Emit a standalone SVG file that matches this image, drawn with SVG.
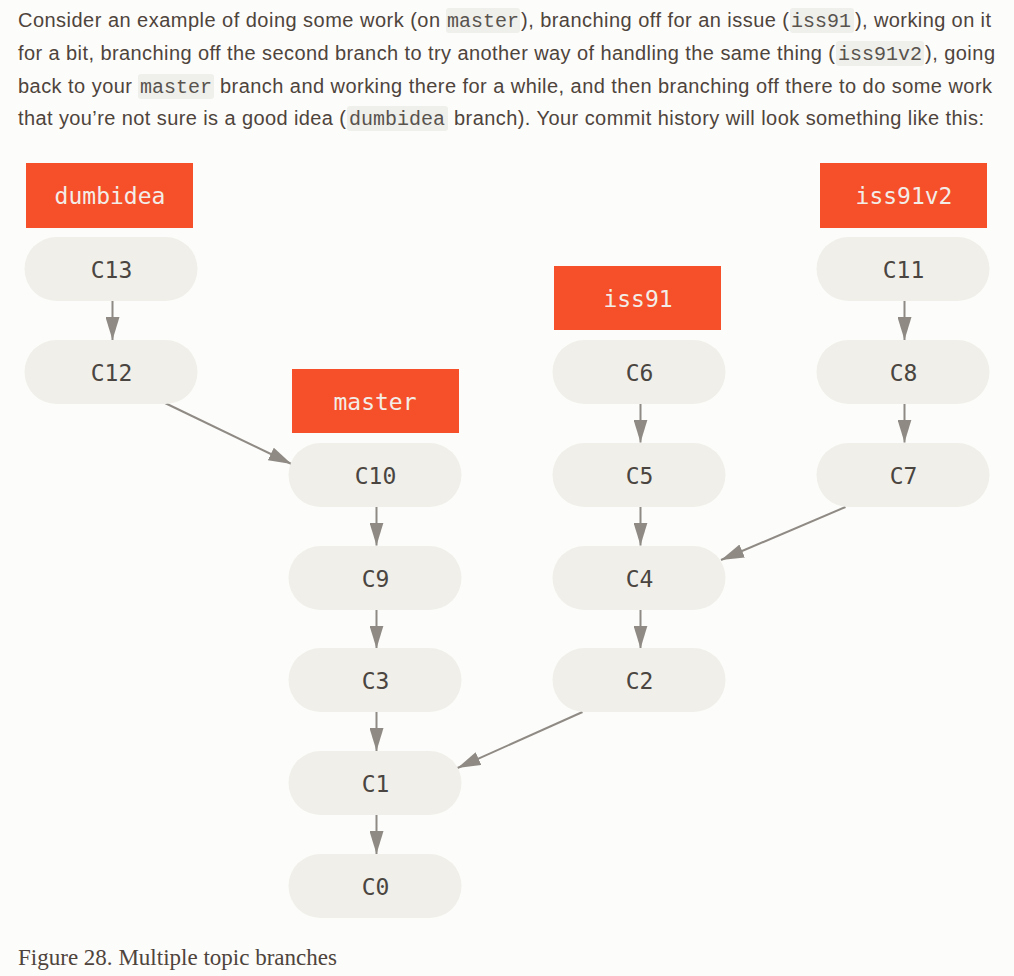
<svg xmlns="http://www.w3.org/2000/svg" width="1014" height="976" viewBox="0 0 1014 976">
<defs>
<style>
.body{font-family:"Liberation Sans",Arial,sans-serif;font-size:20px;fill:#4e443c}
.code{font-family:"Liberation Mono","Courier New",monospace;font-size:20px;fill:#58534e}
.codebg{fill:#efefeb}
.cap{font-family:"Liberation Serif","Times New Roman",serif;font-size:22.5px;fill:#4e443c}
.node rect{fill:#f0efe9}
.node text{font-family:"DejaVu Sans Mono",monospace;font-size:23px;fill:#4a4540;text-anchor:middle}
.label rect{fill:#f6502a}
.label text{font-family:"DejaVu Sans Mono",monospace;font-size:23px;fill:#f3ede8;text-anchor:middle}
.conn line{stroke:#8f8a84;stroke-width:2;marker-end:url(#arr)}
</style>
<marker id="arr" markerUnits="userSpaceOnUse" viewBox="0 0 23 14" refX="23" refY="7" markerWidth="23" markerHeight="14" orient="auto">
<path d="M0,0 L23,7 L0,14 z" fill="#8f8a84"/>
</marker>
</defs>
<rect width="1014" height="976" fill="#fcfcfa"/>

<g id="paragraph">
<rect class="codebg" x="446" y="8" width="74" height="25" rx="3"/>
<rect class="codebg" x="790" y="8" width="64" height="25" rx="3"/>
<rect class="codebg" x="836" y="41" width="88" height="25" rx="3"/>
<rect class="codebg" x="138" y="74" width="76" height="25" rx="3"/>
<rect class="codebg" x="347" y="106" width="101" height="25" rx="3"/>

<text class="body" x="18" y="27" textLength="422" lengthAdjust="spacing">Consider an example of doing some work (on</text>
<text class="code" x="447" y="27">master</text>
<text class="body" x="521" y="27" textLength="268" lengthAdjust="spacing">), branching off for an issue (</text>
<text class="code" x="791" y="27">iss91</text>
<text class="body" x="855" y="27" textLength="136" lengthAdjust="spacing">), working on it</text>

<text class="body" x="18" y="60" textLength="817" lengthAdjust="spacing">for a bit, branching off the second branch to try another way of handling the same thing (</text>
<text class="code" x="838" y="60">iss91v2</text>
<text class="body" x="925" y="60" textLength="70" lengthAdjust="spacing">), going</text>

<text class="body" x="18" y="93" textLength="114" lengthAdjust="spacing">back to your</text>
<text class="code" x="140" y="93">master</text>
<text class="body" x="220" y="93" textLength="772" lengthAdjust="spacing">branch and working there for a while, and then branching off there to do some work</text>

<text class="body" x="18" y="125" textLength="328" lengthAdjust="spacing">that you’re not sure is a good idea (</text>
<text class="code" x="349" y="125">dumbidea</text>
<text class="body" x="454" y="125" textLength="530" lengthAdjust="spacing">branch). Your commit history will look something like this:</text>
</g>

<g id="connectors" class="conn">
<line x1="112.5" y1="301" x2="112.5" y2="340"/>
<line x1="165" y1="403" x2="291.5" y2="464"/>
<line x1="376.5" y1="507" x2="376.5" y2="545.5"/>
<line x1="376.5" y1="610" x2="376.5" y2="648.5"/>
<line x1="376.5" y1="712" x2="376.5" y2="751"/>
<line x1="376.5" y1="815" x2="376.5" y2="854"/>
<line x1="640.5" y1="404" x2="640.5" y2="442.5"/>
<line x1="640.5" y1="507" x2="640.5" y2="545.5"/>
<line x1="640.5" y1="610" x2="640.5" y2="648.5"/>
<line x1="582.5" y1="712" x2="457.5" y2="768"/>
<line x1="904.5" y1="301" x2="904.5" y2="340"/>
<line x1="904.5" y1="404" x2="904.5" y2="442.5"/>
<line x1="845.5" y1="507" x2="721" y2="560"/>
</g>

<g id="label-dumbidea" class="label"><rect x="26" y="163" width="167" height="65"/><text x="110" y="204">dumbidea</text></g>
<g id="label-master" class="label"><rect x="292" y="369" width="167" height="64"/><text x="375" y="410">master</text></g>
<g id="label-iss91" class="label"><rect x="554" y="266" width="167" height="64"/><text x="638" y="307">iss91</text></g>
<g id="label-iss91v2" class="label"><rect x="820" y="163" width="167" height="65"/><text x="904" y="204">iss91v2</text></g>

<g id="node-C13" class="node"><rect x="24.5" y="237" width="173" height="64" rx="32"/><text x="111.5" y="278">C13</text></g>
<g id="node-C12" class="node"><rect x="24.5" y="340" width="173" height="64" rx="32"/><text x="111.5" y="381">C12</text></g>

<g id="node-C10" class="node"><rect x="288.5" y="443" width="173" height="64" rx="32"/><text x="375.5" y="484">C10</text></g>
<g id="node-C9" class="node"><rect x="288.5" y="546" width="173" height="64" rx="32"/><text x="375.5" y="587">C9</text></g>
<g id="node-C3" class="node"><rect x="288.5" y="648" width="173" height="64" rx="32"/><text x="375.5" y="689">C3</text></g>
<g id="node-C1" class="node"><rect x="288.5" y="751" width="173" height="64" rx="32"/><text x="375.5" y="792">C1</text></g>
<g id="node-C0" class="node"><rect x="288.5" y="854" width="173" height="64" rx="32"/><text x="375.5" y="895">C0</text></g>

<g id="node-C6" class="node"><rect x="552.5" y="340" width="173" height="64" rx="32"/><text x="639.5" y="381">C6</text></g>
<g id="node-C5" class="node"><rect x="552.5" y="443" width="173" height="64" rx="32"/><text x="639.5" y="484">C5</text></g>
<g id="node-C4" class="node"><rect x="552.5" y="546" width="173" height="64" rx="32"/><text x="639.5" y="587">C4</text></g>
<g id="node-C2" class="node"><rect x="552.5" y="648" width="173" height="64" rx="32"/><text x="639.5" y="689">C2</text></g>

<g id="node-C11" class="node"><rect x="816.5" y="237" width="173" height="64" rx="32"/><text x="903.5" y="278">C11</text></g>
<g id="node-C8" class="node"><rect x="816.5" y="340" width="173" height="64" rx="32"/><text x="903.5" y="381">C8</text></g>
<g id="node-C7" class="node"><rect x="816.5" y="443" width="173" height="64" rx="32"/><text x="903.5" y="484">C7</text></g>

<text class="cap" x="18" y="965" textLength="319" lengthAdjust="spacingAndGlyphs">Figure 28. Multiple topic branches</text>
</svg>
